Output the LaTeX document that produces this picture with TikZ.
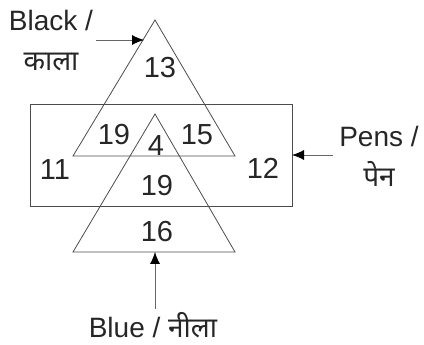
\documentclass[tikz,border=0pt]{standalone}
\usepackage{fontspec}
\setmainfont{Liberation Sans}
\newfontfamily\hindi[Script=Devanagari]{Noto Sans}
\usetikzlibrary{arrows.meta}

\begin{document}
\begin{tikzpicture}[x=1pt, y=-1pt, line width=0.8pt, draw=black!70,
    num/.style={text=black!85, font=\fontsize{29}{29}\selectfont},
    lbl/.style={text=black!85, align=center, inner sep=3pt, font=\fontsize{28}{40}\selectfont},
    ptr/.style={draw=black!60, -{Latex[length=12pt, width=10pt, fill=black, color=black]}}]
    \useasboundingbox (0,0) rectangle (424,345);

    % Pens
    \draw (30,104) rectangle (292,206);

    % Black
    \coordinate (btop) at (155,20);
    \coordinate (bleft) at (73,156);
    \coordinate (bright) at (235,156);
    \draw (btop) -- (bleft) -- (bright) -- cycle;

    % Blue
    \coordinate (utop) at (155,114);
    \coordinate (uleft) at (73,252);
    \coordinate (uright) at (235,252);
    \draw (utop) -- (uleft) -- (uright) -- cycle;

    % numbers
    \node[num] (n13) at (160,68) {13};
    \node[num] (n19a) at (114,135) {19};
    \node[num] (n4) at (156,146) {4};
    \node[num] (n15) at (197,135) {15};
    \node[num] (n11) at (55,170) {11};
    \node[num] (n12) at (263,168) {12};
    \node[num] (n19b) at (157,186) {19};
    \node[num] (n16) at (157,232) {16};

    % labels
    \node[lbl] (black) at (51,41) {Black /\\{\hindi काला}};
    \node[lbl] (pens) at (379,156) {Pens /\\{\hindi पेन}};
    \node[lbl] (blue) at (153,325) {Blue / {\hindi नीला}};

    \coordinate (bhit) at (144,40);
    \coordinate (phit) at (292,155);
    \coordinate (uhit) at (155,252);
    \draw[ptr] (black.east |- bhit) -- (bhit);
    \draw[ptr, shorten <=3pt] (pens.west |- phit) -- (phit);
    \draw[ptr] (uhit |- blue.north) -- (uhit);
\end{tikzpicture}
\end{document}
